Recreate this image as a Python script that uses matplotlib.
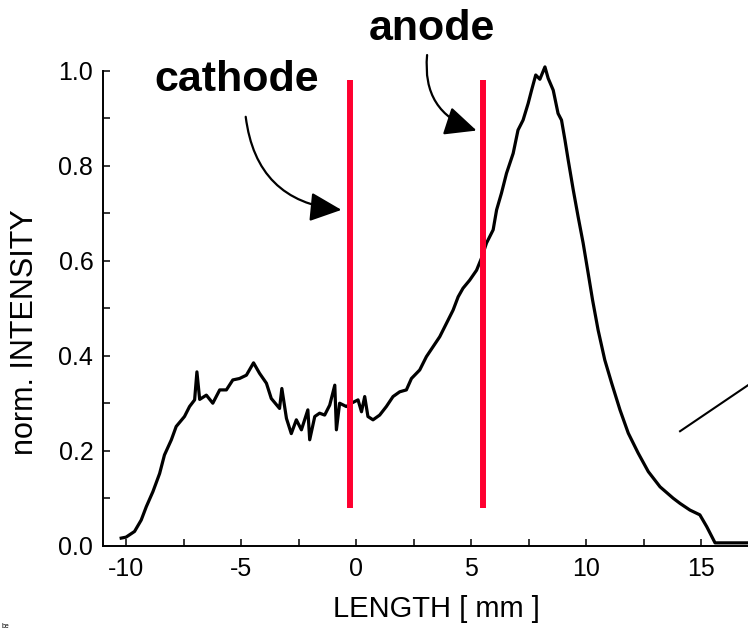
import matplotlib
matplotlib.use("Agg")
import matplotlib.pyplot as plt
import numpy as np
from matplotlib.ticker import MultipleLocator, FormatStrFormatter

plt.rcParams['font.family'] = ['Liberation Sans', 'DejaVu Sans']
plt.rcParams['axes.unicode_minus'] = False

# intensity profile
length_mm = [-10.21, -10.0, -9.63, -9.34, -9.12, -8.83, -8.54, -8.33, -8.03, -7.82,
             -7.46, -7.24, -7.02, -6.92, -6.80, -6.51, -6.23, -5.93, -5.64, -5.36,
             -5.07, -4.77, -4.46, -4.20, -3.90, -3.69, -3.33, -3.23, -3.03, -2.82,
             -2.60, -2.38, -2.10, -2.02, -1.80, -1.59, -1.37, -1.15, -0.93, -0.86,
             -0.72, -0.43, -0.21, 0.08, 0.23, 0.37, 0.51, 0.73, 1.02, 1.31,
             1.60, 1.89, 2.18, 2.40, 2.76, 3.05, 3.34, 3.63, 3.92, 4.21,
             4.43, 4.64, 4.93, 5.23, 5.44, 5.66, 5.95, 6.10, 6.31, 6.53,
             6.82, 7.03, 7.25, 7.47, 7.62, 7.80, 7.98, 8.20, 8.34, 8.56,
             8.77, 8.92, 9.07, 9.21, 9.43, 9.64, 9.86, 10.08, 10.27, 10.51,
             10.80, 11.10, 11.46, 11.82, 12.25, 12.69, 13.20, 13.77, 14.07, 14.50,
             14.93, 15.23, 15.59, 16.67, 17.5]
intensity = [0.016, 0.018, 0.030, 0.054, 0.082, 0.114, 0.152, 0.191, 0.223, 0.251,
             0.272, 0.293, 0.307, 0.366, 0.308, 0.317, 0.300, 0.328, 0.328, 0.349,
             0.352, 0.359, 0.385, 0.363, 0.342, 0.310, 0.289, 0.331, 0.268, 0.236,
             0.265, 0.244, 0.286, 0.223, 0.272, 0.279, 0.275, 0.296, 0.338, 0.244,
             0.300, 0.293, 0.300, 0.307, 0.282, 0.314, 0.272, 0.265, 0.275, 0.293,
             0.314, 0.324, 0.328, 0.352, 0.370, 0.398, 0.419, 0.440, 0.468, 0.496,
             0.524, 0.542, 0.559, 0.580, 0.605, 0.637, 0.665, 0.707, 0.742, 0.784,
             0.826, 0.875, 0.896, 0.931, 0.959, 0.991, 0.982, 1.008, 0.984, 0.959,
             0.910, 0.896, 0.854, 0.812, 0.749, 0.693, 0.637, 0.573, 0.517, 0.454,
             0.391, 0.342, 0.286, 0.237, 0.195, 0.156, 0.124, 0.100, 0.089, 0.075,
             0.065, 0.040, 0.006, 0.006, 0.006]

electrode_x = [-0.27, 5.5]
electrode_y = (0.08, 0.98)
labels = ["cathode", "anode"]
label_xy = [(-5.2, 0.98), (3.3, 1.088)]
arrow_tail = [(-4.80, 0.903), (3.08, 1.033)]
arrow_tip = [(-0.64, 0.707), (5.23, 0.874)]
stray_line_x = [14.07, 18.0]
stray_line_y = [0.241, 0.370]

fig = plt.figure(figsize=(7.48, 6.33), dpi=100)
ax = fig.add_axes([0.1377, 0.1379, 0.8924, 0.7504])

ax.plot(length_mm, intensity, color="black", lw=2.3, clip_on=False, zorder=3)
for xe in electrode_x:
    ax.plot([xe, xe], electrode_y, color="#ff0030", lw=4.3, zorder=4,
            solid_capstyle="butt")
ax.plot(stray_line_x, stray_line_y, color="black", lw=1.5, clip_on=False)

for lab, (tx, ty) in zip(labels, label_xy):
    ax.text(tx, ty, lab, fontsize=31, fontweight="bold", ha="center",
            va="center", clip_on=False)

for (x0, y0), (x1, y1) in zip(arrow_tail, arrow_tip):
    ax.annotate("", xy=(x1, y1), xytext=(x0, y0), annotation_clip=False,
                arrowprops=dict(arrowstyle="-|>,head_length=1.3,head_width=0.6",
                                connectionstyle="arc3,rad=0.4",
                                mutation_scale=15, color="black", lw=1.6,
                                shrinkA=0, shrinkB=0))

ax.set_xlim(-11, 18)
ax.set_ylim(0, 1.0)
ax.xaxis.set_major_locator(MultipleLocator(5))
ax.xaxis.set_minor_locator(MultipleLocator(2.5))
ax.yaxis.set_major_locator(MultipleLocator(0.2))
ax.yaxis.set_minor_locator(MultipleLocator(0.1))
ax.yaxis.set_major_formatter(FormatStrFormatter("%.1f"))
ax.tick_params(which="both", direction="in", length=5, width=1.1,
               top=False, right=False)
ax.tick_params(axis="x", labelsize=18, pad=8)
ax.tick_params(axis="y", labelsize=18, pad=7)
for side in ["top", "right"]:
    ax.spines[side].set_visible(False)
for side in ["left", "bottom"]:
    ax.spines[side].set_linewidth(1.4)

ax.set_xlabel("LENGTH [ mm ]", fontsize=21, labelpad=10)
ax.set_ylabel("norm. INTENSITY", fontsize=22)
ax.yaxis.set_label_coords(-0.094, 0.45)

fig.text(0.002, 0.008, "be", fontsize=5)

fig.savefig("out.png", dpi=100)
